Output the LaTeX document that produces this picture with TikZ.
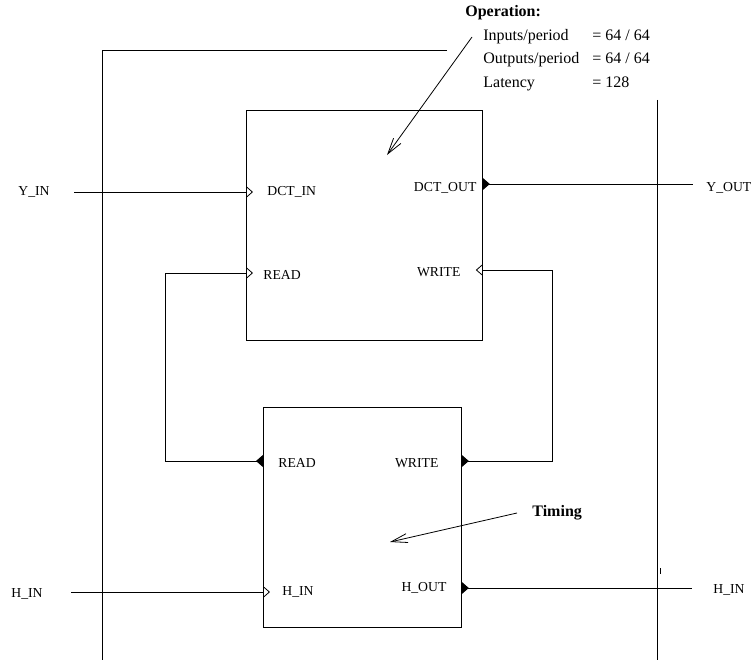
\documentclass[tikz,border=0pt]{standalone}
\usepackage{fontspec}
\setmainfont{Liberation Serif}
\usetikzlibrary{arrows.meta,positioning,calc}

\begin{document}
\begin{tikzpicture}[
  x=1pt, y=-1pt,
  line width=0.8pt,
  blockbox/.style={
    draw,
    anchor=north west,
    inner sep=0pt
  },
  portlabel/.style={
    inner sep=0pt,
    font=\fontsize{13.7}{16}\selectfont
  },
  note/.style={
    inner sep=0pt,
    font=\fontsize{16}{23.5}\selectfont
  },
  inport/.style={-{Triangle[open,length=7pt,width=12pt]}, shorten >=-7pt},
  outport/.style={{Triangle[reversed,length=7pt,width=12pt]}-},
  loopwire/.style={{Triangle[reversed,length=7pt,width=12pt]}-{Triangle[open,length=7pt,width=12pt]}, shorten >=-7pt},
  notearrow/.style={-{Straight Barb[length=16pt,width=9pt]}}
]

  \useasboundingbox (0,0) rectangle (753,661);

  % --- Frame lines
  \draw (447,50) -| (102,660);
  \draw (657,100) -- (657,660);
  \draw[line width=0.5pt] (660,568) -- (660,574);

  % --- Blocks
  \node[blockbox, minimum width=236pt, minimum height=230pt] (dct) at (246,110) {};
  \node[blockbox, minimum width=198pt, minimum height=220pt] (tbuf) at (263,407) {};

  % Ports of the DCT block
  \coordinate (pDctIn)   at ($(dct.north west)+(0,82)$);
  \coordinate (pDctRead) at ($(dct.north west)+(0,163)$);
  \coordinate (pDctOut)  at ($(dct.north east)+(0,74)$);
  \coordinate (pDctWr)   at ($(dct.north east)+(0,160)$);

  % Ports of the timing block
  \coordinate (pTRead) at ($(tbuf.north west)+(0,54)$);
  \coordinate (pTWr)   at ($(tbuf.north east)+(0,54)$);
  \coordinate (pTIn)   at ($(tbuf.north west)+(0,185)$);
  \coordinate (pTOut)  at ($(tbuf.north east)+(0,181)$);

  % Port labels
  \node[portlabel, right=21pt of pDctIn] (lDctIn) {DCT\_IN};
  \node[portlabel, right=17pt of pDctRead, yshift=-2pt] (lDctRead) {READ};
  \node[portlabel, left=6pt of pDctOut, yshift=-4pt] (lDctOut) {DCT\_OUT};
  \node[portlabel, left=22pt of pDctWr, yshift=-2pt] (lDctWr) {WRITE};
  \node[portlabel, right=15pt of pTRead, yshift=-2pt] (lTRead) {READ};
  \node[portlabel, left=23pt of pTWr, yshift=-2pt] (lTWr) {WRITE};
  \node[portlabel, right=19pt of pTIn] (lTIn) {H\_IN};
  \node[portlabel, left=15pt of pTOut] (lTOut) {H\_OUT};

  % --- Outside signals
  \coordinate (yinEnd)  at (74,192);
  \coordinate (youtEnd) at (693,184);
  \coordinate (hinEnd)  at (71,592);
  \coordinate (houtEnd) at (692,588);
  \node[portlabel, left=24pt of yinEnd] (yin) {Y\_IN};
  \node[portlabel, right=13pt of youtEnd, yshift=-4pt] (yout) {Y\_OUT};
  \node[portlabel, left=28pt of hinEnd, yshift=-2pt] (hin) {H\_IN};
  \node[portlabel, right=21pt of houtEnd, yshift=-2pt] (hout) {H\_IN};

  % --- Notes
  \node[note, anchor=west, font=\fontsize{16}{19}\selectfont\bfseries] (opTitle) at (465,13) {Operation:};
  \node[note, anchor=north west] (opData) at (483,23.5) {%
    \begin{tabular}{@{}l@{\hspace{13pt}}l@{}}
      Inputs/period  & = 64 / 64\\
      Outputs/period & = 64 / 64\\
      Latency        & = 128
    \end{tabular}};
  \node[note, anchor=west, font=\fontsize{16}{19}\selectfont\bfseries] (timing) at (532,513) {Timing};
  \coordinate (opTip) at (387,155);
  \coordinate (tmTip) at (390,542);

  % Connecting Arrows
  \draw[inport] (yinEnd) -- (pDctIn);
  \draw[outport] (pDctOut) -- (youtEnd);
  \draw[loopwire] (pTRead) -| ($(pDctRead)+(-81,0)$) -- (pDctRead);
  \draw[loopwire] (pTWr) -| ($(pDctWr)+(70,0)$) -- (pDctWr);
  \draw[inport] (hinEnd) -- (pTIn);
  \draw[outport] (pTOut) -- (houtEnd);
  \draw[notearrow] ($(opData.north west)+(-11,13.5)$) -- (opTip);
  \draw[notearrow] ([xshift=-15pt]timing.west) -- (tmTip);

\end{tikzpicture}
\end{document}
